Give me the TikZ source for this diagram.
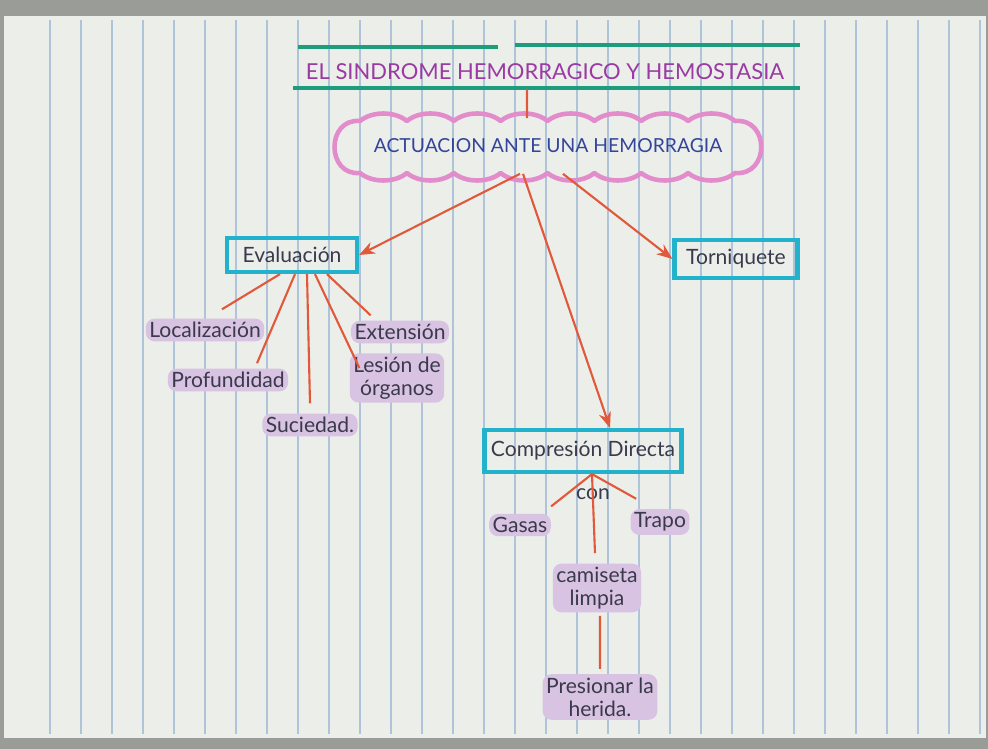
\documentclass[tikz,border=0pt]{standalone}
\usepackage{fontspec}
\setmainfont{Lato}
\usetikzlibrary{arrows.meta}
\definecolor{frame}{HTML}{9A9C98}
\definecolor{paper}{HTML}{ECEEEA}
\definecolor{gridc}{HTML}{AFC4DA}
\definecolor{greenc}{HTML}{1E9C7E}
\definecolor{titlec}{HTML}{9A3AA2}
\definecolor{pinkc}{HTML}{E28CCB}
\definecolor{cloudtxt}{HTML}{34449A}
\definecolor{cyanc}{HTML}{22B2CC}
\definecolor{redc}{HTML}{E2583A}
\definecolor{ink}{HTML}{3A3A4C}
\definecolor{hlc}{HTML}{D9C3E2}
\tikzset{
  gridline/.style={gridc, line width=0.6pt},
  greenline/.style={greenc, line width=2pt},
  con/.style={redc, line width=1.2pt},
  arr/.style={redc, line width=1.2pt, -{Stealth[length=9pt,width=7pt]}},
  boxn/.style={draw=cyanc, line width=2.4pt, text=ink, font=\fontsize{12}{14}\selectfont, inner sep=2pt},
  hl/.style={fill=hlc, rounded corners=5pt, text=ink, font=\fontsize{12}{13}\selectfont, inner sep=2pt, align=center},
  cloudline/.style={pinkc, line width=2.6pt, line join=round},
  cloudtext/.style={text=cloudtxt, font=\fontsize{11}{13}\selectfont, inner sep=0pt},
}
\begin{document}
\begin{tikzpicture}[x=0.02cm,y=-0.02cm]
\fill[frame] (0,0) rectangle (988,749);
\fill[paper] (4,16) rectangle (986,738);
\foreach \x in {50,81,...,980} \draw[gridline] (\x,20) -- (\x,734);
% title
\node[text=titlec, font=\fontsize{12.5}{15}\selectfont, inner sep=2pt] (t) at (545,72) {EL SINDROME HEMORRAGICO Y HEMOSTASIA};
\draw[greenline] (298,47) -- (498,47);
\draw[greenline] (515,45) -- (800,45);
\draw[greenline] (293,88) -- (800,88);
% cloud
\draw[cloudline] (360,121)
  foreach \i [evaluate=\i as \xa using 360+46.875*\i, evaluate=\i as \xb using 360+46.875*(\i+1)] in {0,...,7}
    { .. controls (\xa+12,111) and (\xb-12,111) .. (\xb,121) }
  .. controls (770,118) and (770,176) .. (735,173)
  foreach \i [evaluate=\i as \xa using 735-46.875*\i, evaluate=\i as \xb using 735-46.875*(\i+1)] in {0,...,7}
    { .. controls (\xa-12,183) and (\xb+12,183) .. (\xb,173) }
  .. controls (326,176) and (326,118) .. (360,121) -- cycle;
\node[cloudtext, minimum width=8cm, minimum height=1.1cm] (c) at (548,146) {ACTUACION ANTE UNA HEMORRAGIA};
\draw[con] ([xshift=-0.36cm,yshift=-0.1cm]t.south) -- ([xshift=-0.42cm]c.north);
% boxes
\node[boxn, minimum width=2.6cm, minimum height=0.68cm] (ev) at (292,255) {Evaluación};
\node[boxn, minimum width=2.46cm, minimum height=0.76cm] (to) at (736,259) {Torniquete};
\node[boxn, minimum width=3.94cm, minimum height=0.84cm] (co) at (583,451) {Compresión Directa};
\draw[arr] ([xshift=-0.56cm]c.south) -- (ev.east);
\draw[arr] ([xshift=0.3cm]c.south) -- (to.west);
\draw[arr] ([xshift=-0.5cm]c.south) -- ([xshift=0.54cm]co.north);
% evaluation children
\node[hl] (loc) at (205,330) {Localización};
\node[hl] (pro) at (228,380) {Profundidad};
\node[hl] (suc) at (310,425) {Suciedad.};
\node[hl] (les) at (397,378) {Lesión de\\órganos};
\node[hl] (ext) at (400,332) {Extensión};
\draw[con] ([xshift=-0.24cm]ev.south) -- ([xshift=0.34cm,yshift=0.18cm]loc.north);
\draw[con] ([xshift=0.06cm]ev.south) -- ([xshift=0.58cm,yshift=0.1cm]pro.north);
\draw[con] ([xshift=0.3cm]ev.south) -- ([yshift=0.2cm]suc.north);
\draw[con] ([xshift=0.46cm]ev.south) -- ([xshift=0.2cm,yshift=-0.3cm]les.north west);
\draw[con] ([xshift=0.7cm]ev.south) -- ([xshift=0.4cm,yshift=0.1cm]ext.north west);
% compression children
\node[text=ink, font=\fontsize{12}{14}\selectfont] (cn) at (593,494) {con};
\node[hl] (gas) at (520,525) {Gasas};
\node[hl] (tra) at (660,522) {Trapo};
\node[hl] (cam) at (597,588) {camiseta\\limpia};
\node[hl] (pre) at (600,697) {Presionar la\\herida.};
\draw[con] ([xshift=0.18cm]co.south) -- ([yshift=0.14cm]gas.north east);
\draw[con] ([xshift=0.18cm]co.south) -- ([xshift=0.12cm,yshift=0.2cm]tra.north west);
\draw[con] ([xshift=0.18cm]co.south) -- ([xshift=-0.04cm,yshift=0.2cm]cam.north);
\draw[con] ([xshift=0.06cm,yshift=-0.06cm]cam.south) -- ([yshift=0.1cm]pre.north);
\end{tikzpicture}
\end{document}
